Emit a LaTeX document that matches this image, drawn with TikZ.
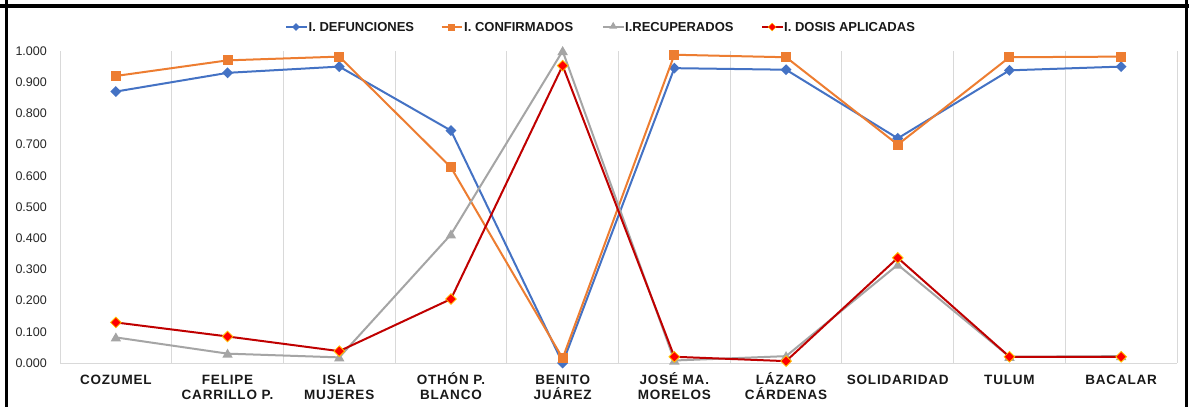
\documentclass[tikz,border=0pt]{standalone}
\usepackage{fontspec}
\setmainfont{Liberation Sans}
\newfontfamily\catfont[LetterSpace=6]{Liberation Sans Bold}
\newfontfamily\legfont{Liberation Sans Bold}
\usetikzlibrary{shapes.geometric}
\definecolor{cblue}{HTML}{4472C4}
\definecolor{corange}{HTML}{ED7D31}
\definecolor{cgray}{HTML}{A5A5A5}
\definecolor{cred}{HTML}{C00000}
\definecolor{cmred}{HTML}{FF0000}
\definecolor{cmedge}{HTML}{FFC000}
\definecolor{cgrid}{HTML}{D9D9D9}
\tikzset{
  gridl/.style={draw=cgrid, line width=0.9pt},
  frameline/.style={draw=black, line width=3pt},
  ylab/.style={anchor=east, inner sep=0pt, font=\fontsize{12.5}{14}\selectfont, text=black!85},
  catlab/.style={anchor=north, inner sep=0pt, align=center, font=\catfont\fontsize{13.5}{15.5}\selectfont, text=black!90},
  leglab/.style={anchor=west, inner sep=0pt, font=\legfont\fontsize{13}{14}\selectfont, text=black!90},
  dline/.style={draw=cblue, line width=2pt, line join=round},
  oline/.style={draw=corange, line width=2pt, line join=round},
  gline/.style={draw=cgray, line width=2pt, line join=round},
  rline/.style={draw=cred, line width=2pt, line join=round},
  dmark/.style={diamond, aspect=1, fill=cblue, draw=none, minimum size=11pt, inner sep=0pt},
  omark/.style={rectangle, fill=corange, draw=none, minimum size=10pt, inner sep=0pt},
  gmark/.style={regular polygon, regular polygon sides=3, fill=cgray, draw=none, minimum size=12pt, inner sep=0pt},
  rmark/.style={diamond, aspect=1, fill=cmred, draw=cmedge, line width=0.8pt, minimum size=11pt, inner sep=0pt},
  dmarks/.style={dmark, minimum size=8pt},
  omarks/.style={omark, minimum size=7pt},
  gmarks/.style={gmark, minimum size=9pt},
  rmarks/.style={rmark, minimum size=8pt, line width=0.5pt},
}
\newcommand{\fl}{\rule{0pt}{14pt}}
\begin{document}
\begin{tikzpicture}[x=1pt,y=-1pt]
\useasboundingbox (0,0) rectangle (1189,407);
\fill[white] (0,0) rectangle (1189,407);
% frame
\coordinate (fTL) at (6,0); \coordinate (fBL) at (6,407);
\coordinate (fTR) at (1186,0); \coordinate (fBR) at (1186,407);
\coordinate (fT1) at (0,5.5); \coordinate (fT2) at (1189,5.5);
\draw[frameline] (fTL) -- (fBL);
\draw[frameline] (fTR) -- (fBR);
\draw[frameline, line width=4pt] (fT1) -- (fT2);
% grid
\foreach \k in {0,...,10} {
  \coordinate (gt\k) at ({60+\k*111.7},51);
  \coordinate (gb\k) at ({60+\k*111.7},363);
  \draw[gridl] (gt\k) -- (gb\k);
}
\draw[gridl] (gb0) -- (gb10);
% y labels
\foreach \k/\t in {0/0.000,1/0.100,2/0.200,3/0.300,4/0.400,5/0.500,6/0.600,7/0.700,8/0.800,9/0.900,10/1.000}
  \node[ylab] (yl\k) at (47,{363-31.2*\k}) {\t};
% category labels
\foreach \i/\t in {1/COZUMEL,2/{FELIPE\\CARRILLO P.},3/{ISLA\\MUJERES},4/{OTHÓN P.\\BLANCO},5/{BENITO\\JUÁREZ},6/{JOSÉ MA.\\MORELOS},7/{LÁZARO\\CÁRDENAS},8/SOLIDARIDAD,9/TULUM,10/BACALAR}
  \node[catlab] (cl\i) at ({60+(\i-0.5)*111.7},370) {\fl\t};
% data points
\foreach \i/\v in {1/0.870,2/0.930,3/0.950,4/0.745,5/0.000,6/0.945,7/0.940,8/0.720,9/0.938,10/0.950}
  \coordinate (d\i) at ({60+(\i-0.5)*111.7},{363-312*\v});
\foreach \i/\v in {1/0.920,2/0.970,3/0.982,4/0.627,5/0.015,6/0.988,7/0.980,8/0.700,9/0.980,10/0.982}
  \coordinate (o\i) at ({60+(\i-0.5)*111.7},{363-312*\v});
\foreach \i/\v in {1/0.082,2/0.030,3/0.018,4/0.412,5/1.000,6/0.008,7/0.022,8/0.315,9/0.020,10/0.022}
  \coordinate (g\i) at ({60+(\i-0.5)*111.7},{363-312*\v});
\foreach \i/\v in {1/0.130,2/0.085,3/0.038,4/0.205,5/0.953,6/0.020,7/0.006,8/0.337,9/0.020,10/0.020}
  \coordinate (r\i) at ({60+(\i-0.5)*111.7},{363-312*\v});
% series
\draw[dline] (d1) \foreach \i in {2,...,10} { -- (d\i) };
\foreach \i in {1,...,10} \node[dmark] (dm\i) at (d\i) {};
\draw[oline] (o1) \foreach \i in {2,...,10} { -- (o\i) };
\foreach \i in {1,...,10} \node[omark] (om\i) at (o\i) {};
\draw[gline] (g1) \foreach \i in {2,...,10} { -- (g\i) };
\foreach \i in {1,...,10} \node[gmark] (gm\i) at ([yshift=-1pt]g\i) {};
\draw[rline] (r1) \foreach \i in {2,...,10} { -- (r\i) };
\foreach \i in {1,...,10} \node[rmark] (rm\i) at (r\i) {};
% legend
\coordinate (la1) at (286,27); \coordinate (lb1) at (306.5,27);
\draw[dline, line width=1.8pt] (la1) -- (lb1); \node[dmarks] (lm1) at (296,27) {};
\node[leglab] (lt1) at (308.5,27) {I. DEFUNCIONES};
\coordinate (la2) at (441.5,27); \coordinate (lb2) at (462,27);
\draw[oline, line width=1.8pt] (la2) -- (lb2); \node[omarks] (lm2) at (451.7,27) {};
\node[leglab] (lt2) at (464,27) {I. CONFIRMADOS};
\coordinate (la3) at (603,27); \coordinate (lb3) at (623.5,27);
\draw[gline, line width=1.8pt] (la3) -- (lb3); \node[gmarks] (lm3) at (613.2,26.3) {};
\node[leglab] (lt3) at (625,27) {I.RECUPERADOS};
\coordinate (la4) at (762,27); \coordinate (lb4) at (782.5,27);
\draw[rline, line width=1.8pt] (la4) -- (lb4); \node[rmarks] (lm4) at (772.2,27) {};
\node[leglab] (lt4) at (784,27) {I. DOSIS APLICADAS};
\end{tikzpicture}
\end{document}
